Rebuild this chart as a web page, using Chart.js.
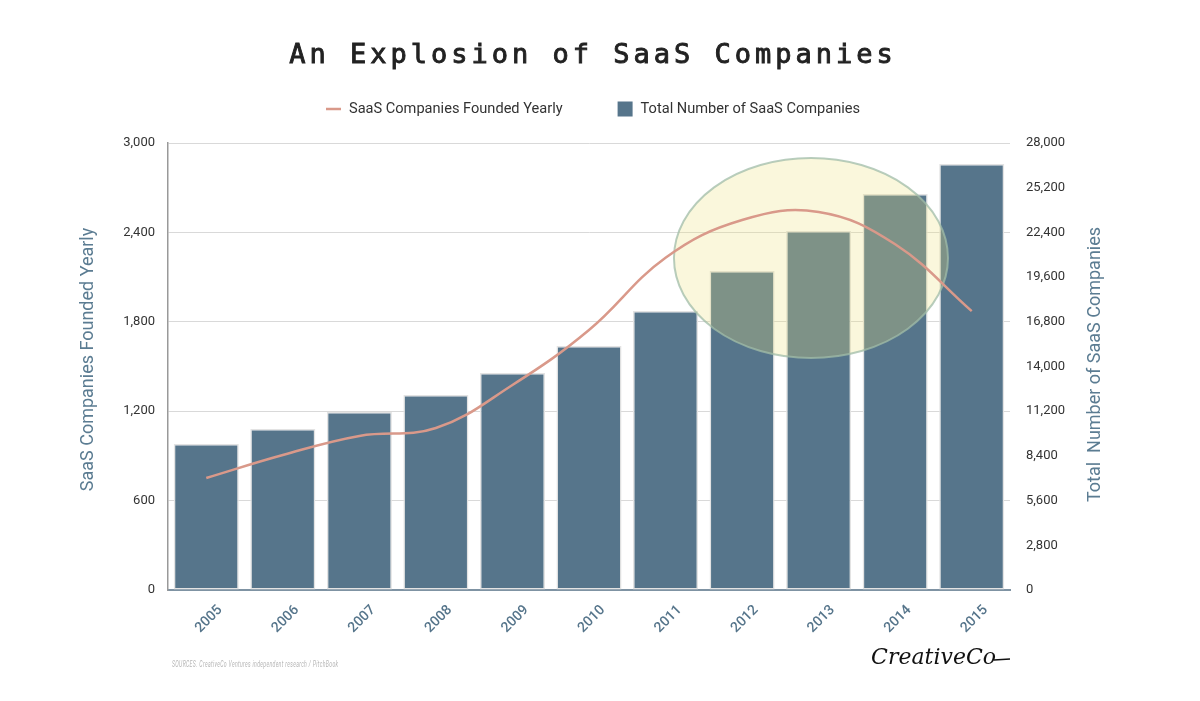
<!DOCTYPE html>
<html>
<head>
<meta charset="utf-8">
<script src="https://cdn.jsdelivr.net/npm/chart.js@4.4.1/dist/chart.umd.min.js"></script>
<style>
  html, body { margin: 0; padding: 0; background: #fff; }
  #wrap { width: 1200px; height: 701px; position: relative; }
</style>
</head>
<body>
<div id="wrap"><canvas id="chart" width="1200" height="701"></canvas></div>
<script>
// An Explosion of SaaS Companies
const years = ["2005", "2006", "2007", "2008", "2009", "2010", "2011", "2012", "2013", "2014", "2015"];
const foundedYearly = [752, 906, 1034, 1087, 1376, 1745, 2230, 2483, 2537, 2320, 1872];
const totalCompanies = [9150, 10090, 11150, 12210, 13590, 15280, 17480, 19980, 22490, 24800, 26690];
const leftTicks = [0, 600, 1200, 1800, 2400, 3000];
const rightTicks = [0, 2800, 5600, 8400, 11200, 14000, 16800, 19600, 22400, 25200, 28000];

const TITLE = "An Explosion of SaaS Companies";
const LEFT_TITLE = "SaaS Companies Founded Yearly";
const RIGHT_TITLE = "Total  Number of SaaS Companies";
const SOURCE = "SOURCES. CreativeCo Ventures independent research / PitchBook";

// highlight ellipse in data units (x = category index, y = left axis value)
const highlight = { x: 7.9, y: 2228, rx: 1.79, ry: 671 };

const BAR_COLOR = "#56758b";
const LINE_COLOR = "#d9998a";
const AXIS_TITLE_COLOR = "#5b7c92";

const highlightPlugin = {
  id: "highlight",
  afterDatasetDraw(chart, args) {
    if (args.meta.type !== "bar") return;
    const x = chart.scales.x;
    const y = chart.scales.y;
    const cx = x.getPixelForValue(highlight.x);
    const cy = y.getPixelForValue(highlight.y);
    const rx = Math.abs(x.getPixelForValue(highlight.x + highlight.rx) - cx);
    const ry = Math.abs(y.getPixelForValue(highlight.y + highlight.ry) - cy);
    const ctx = chart.ctx;
    ctx.save();
    ctx.beginPath();
    ctx.ellipse(cx, cy, rx, ry, 0, 0, Math.PI * 2);
    ctx.fillStyle = "rgba(236, 225, 125, 0.27)";
    ctx.fill();
    ctx.lineWidth = 2;
    ctx.strokeStyle = "rgba(160, 188, 168, 0.75)";
    ctx.stroke();
    ctx.restore();
  },
};

// title, legend, axis titles and footer drawn by hand
const decorPlugin = {
  id: "decor",
  afterDraw(chart) {
    const ctx = chart.ctx;
    const area = chart.chartArea;
    const midY = (area.top + area.bottom) / 2;
    ctx.save();

    // title
    ctx.fillStyle = "#222";
    ctx.strokeStyle = "#222";
    ctx.lineWidth = 0.9;
    ctx.font = "27px 'DejaVu Sans Mono'";
    ctx.letterSpacing = "4px";
    ctx.textAlign = "center";
    ctx.textBaseline = "middle";
    ctx.fillText(TITLE, 593, 56);
    ctx.strokeText(TITLE, 593, 56);
    ctx.letterSpacing = "0px";

    // legend
    ctx.font = "14.6px Roboto";
    ctx.textAlign = "left";
    const w1 = ctx.measureText(LEFT_TITLE).width;
    const w2 = ctx.measureText("Total Number of SaaS Companies").width;
    const total = 15 + 8 + w1 + 55 + 15 + 8 + w2;
    let lx = 593 - total / 2;
    const ly = 109;
    ctx.strokeStyle = LINE_COLOR;
    ctx.lineWidth = 2.5;
    ctx.beginPath();
    ctx.moveTo(lx, ly);
    ctx.lineTo(lx + 15, ly);
    ctx.stroke();
    ctx.fillStyle = "#333";
    ctx.fillText(LEFT_TITLE, lx + 23, ly);
    lx += 23 + w1 + 55;
    ctx.fillStyle = BAR_COLOR;
    ctx.fillRect(lx, ly - 7.5, 15, 15);
    ctx.fillStyle = "#333";
    ctx.fillText("Total Number of SaaS Companies", lx + 23, ly);

    // axis titles
    ctx.fillStyle = AXIS_TITLE_COLOR;
    ctx.font = "18px Roboto";
    ctx.textAlign = "center";
    ctx.save();
    ctx.translate(88, midY - 7);
    ctx.rotate(-Math.PI / 2);
    ctx.fillText(LEFT_TITLE, 0, 0);
    ctx.restore();
    ctx.save();
    ctx.translate(1095, midY - 2);
    ctx.rotate(-Math.PI / 2);
    ctx.fillText(RIGHT_TITLE, 0, 0);
    ctx.restore();

    // footer
    ctx.save();
    ctx.fillStyle = "#b5b5b5";
    ctx.font = "italic 9px Roboto";
    ctx.textAlign = "left";
    ctx.translate(area.left + 4, 665);
    ctx.scale(0.57, 1);
    ctx.letterSpacing = "0.6px";
    ctx.fillText(SOURCE, 0, 0);
    ctx.restore();

    ctx.fillStyle = "#111";
    ctx.font = "italic 22px 'DejaVu Serif'";
    ctx.textAlign = "right";
    ctx.fillText("CreativeCo", area.right - 14, 658);
    ctx.strokeStyle = "#111";
    ctx.lineWidth = 1.5;
    ctx.beginPath();
    ctx.moveTo(area.right - 16, 660);
    ctx.lineTo(area.right, 659);
    ctx.stroke();
    ctx.restore();
  },
};

new Chart(document.getElementById("chart").getContext("2d"), {
  data: {
    labels: years,
    datasets: [
      {
        type: "line",
        label: "SaaS Companies Founded Yearly",
        data: foundedYearly,
        yAxisID: "y",
        borderColor: LINE_COLOR,
        backgroundColor: LINE_COLOR,
        borderWidth: 2.5,
        pointRadius: 0,
        tension: 0.4,
        order: 0,
      },
      {
        type: "bar",
        label: "Total Number of SaaS Companies",
        data: totalCompanies,
        yAxisID: "y1",
        backgroundColor: BAR_COLOR,
        borderColor: "#e3e3e3",
        borderWidth: 1.5,
        borderSkipped: false,
        categoryPercentage: 1,
        barPercentage: 0.85,
        order: 1,
      },
    ],
  },
  options: {
    responsive: false,
    animation: false,
    layout: { padding: { left: 0, right: 0, top: 143, bottom: 0 } },
    plugins: {
      title: { display: false },
      legend: { display: false },
      tooltip: { enabled: false },
    },
    scales: {
      x: {
        offset: true,
        grid: { display: false },
        border: { color: "#7f93a3", width: 2 },
        ticks: {
          color: BAR_COLOR,
          font: { family: "Roboto", size: 14, weight: "500" },
          minRotation: 45,
          maxRotation: 45,
          padding: 4,
          labelOffset: 14,
        },
        afterFit(scale) { scale.height = 111; },
      },
      y: {
        position: "left",
        min: 0,
        max: 3000,
        afterBuildTicks(scale) { scale.ticks = leftTicks.map((v) => ({ value: v })); },
        grid: { color: "#d9d9d9", drawTicks: false },
        border: { color: "#999", width: 1.5 },
        ticks: { color: "#333", font: { family: "Roboto", size: 13 }, padding: 13 },
        afterFit(scale) { scale.width = 168; },
      },
      y1: {
        position: "right",
        min: 0,
        max: 28000,
        afterBuildTicks(scale) { scale.ticks = rightTicks.map((v) => ({ value: v })); },
        grid: { drawOnChartArea: false, drawTicks: false },
        border: { display: false },
        ticks: { color: "#333", font: { family: "Roboto", size: 13 }, padding: 16 },
        afterFit(scale) { scale.width = 190; },
      },
    },
  },
  plugins: [highlightPlugin, decorPlugin],
});
</script>
</body>
</html>
